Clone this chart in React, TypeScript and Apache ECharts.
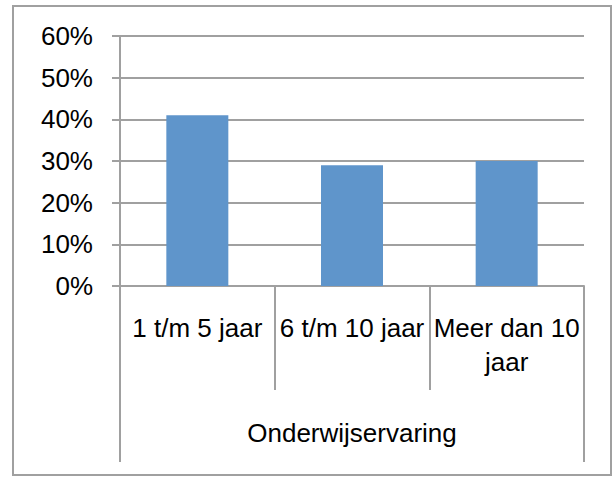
import React, { useEffect, useRef } from "react";
import * as echarts from "echarts";

const categories = ["1 t/m 5 jaar", "6 t/m 10 jaar", "Meer dan 10\njaar"];
const values = [0.41, 0.29, 0.30];
const groupLabel = ["Onderwijservaring"];
const yTicks = [0, 0.1, 0.2, 0.3, 0.4, 0.5, 0.6];

const LINE = "#a0a0a0";
const FONT = "'Liberation Sans', Arial, sans-serif";

export default function App() {
  const ref = useRef<HTMLDivElement>(null);
  useEffect(() => {
    if (!ref.current) return;
    const chart = echarts.init(ref.current, null, { renderer: "svg" });
    chart.setOption({
      animation: false,
      backgroundColor: "#ffffff",
      textStyle: { fontFamily: FONT },
      grid: { left: 120, right: 28, top: 36, bottom: 191, containLabel: false },
      xAxis: [
        {
          type: "category",
          data: categories,
          position: "bottom",
          boundaryGap: true,
          axisLine: { show: true, lineStyle: { color: LINE, width: 2 } },
          axisTick: { show: true, length: 104, alignWithLabel: false, lineStyle: { color: LINE, width: 2 } },
          axisLabel: {
            show: true,
            interval: 0,
            margin: 25,
            color: "#000",
            fontSize: 26,
            lineHeight: 34,
            fontFamily: FONT,
            align: "center",
          },
        },
        {
          type: "category",
          data: groupLabel,
          position: "bottom",
          offset: 0,
          boundaryGap: true,
          axisLine: { show: false },
          axisTick: { show: true, length: 176, lineStyle: { color: LINE, width: 2 } },
          axisLabel: { show: true, margin: 134, color: "#000", fontSize: 26, fontFamily: FONT },
          splitLine: { show: false },
        },
      ],
      yAxis: {
        type: "value",
        min: yTicks[0],
        max: yTicks[yTicks.length - 1],
        interval: 0.1,
        axisLine: { show: true, lineStyle: { color: LINE, width: 2 } },
        axisTick: { show: true, length: 8, lineStyle: { color: LINE, width: 2 } },
        splitLine: { show: true, lineStyle: { color: LINE, width: 2 } },
        axisLabel: {
          margin: 27,
          color: "#000",
          fontSize: 26,
          fontFamily: FONT,
          formatter: (v: number) => Math.round(v * 100) + "%",
        },
      },
      series: [
        {
          type: "bar",
          data: values,
          xAxisIndex: 0,
          barWidth: 62,
          itemStyle: { color: "#5f95cb" },
        },
      ],
      graphic: [
        {
          type: "rect",
          shape: { x: 13, y: 6, width: 598, height: 469 },
          style: { fill: "none", stroke: LINE, lineWidth: 2 },
          silent: true,
        },
      ],
    });
    return () => chart.dispose();
  }, []);
  return <div ref={ref} style={{ position: "fixed", left: 0, top: 0, width: 612, height: 477 }} />;
}
